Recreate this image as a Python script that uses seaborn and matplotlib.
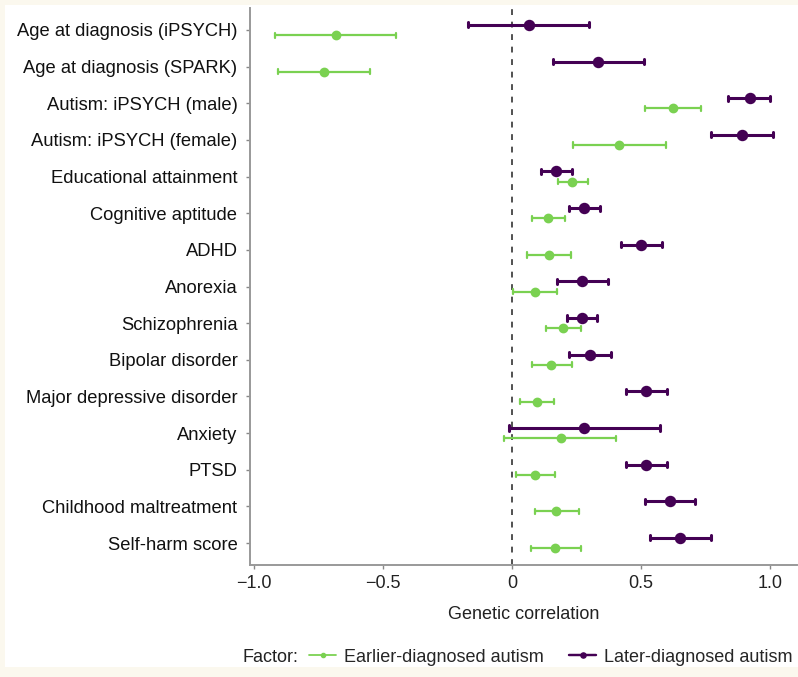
import matplotlib
matplotlib.use("Agg")
import matplotlib.pyplot as plt
from matplotlib.lines import Line2D
from matplotlib.patches import Rectangle
import seaborn as sns
import pandas as pd
import numpy as np

traits = [
    "Age at diagnosis (iPSYCH)", "Age at diagnosis (SPARK)", "Autism: iPSYCH (male)",
    "Autism: iPSYCH (female)", "Educational attainment", "Cognitive aptitude", "ADHD",
    "Anorexia", "Schizophrenia", "Bipolar disorder", "Major depressive disorder",
    "Anxiety", "PTSD", "Childhood maltreatment", "Self-harm score",
]
factors = ["Earlier-diagnosed autism", "Later-diagnosed autism"]

early_est = [-0.683, -0.729, 0.623, 0.416, 0.233, 0.140, 0.144, 0.089, 0.198, 0.153, 0.095, 0.189, 0.089, 0.172, 0.167]
early_lo = [-0.918, -0.909, 0.514, 0.236, 0.178, 0.077, 0.060, 0.005, 0.133, 0.078, 0.029, -0.030, 0.016, 0.089, 0.074]
early_hi = [-0.448, -0.552, 0.731, 0.597, 0.295, 0.205, 0.230, 0.174, 0.267, 0.233, 0.164, 0.403, 0.167, 0.258, 0.267]

late_est = [0.064, 0.333, 0.921, 0.891, 0.171, 0.281, 0.500, 0.271, 0.271, 0.302, 0.521, 0.281, 0.521, 0.612, 0.653]
late_lo = [-0.172, 0.157, 0.839, 0.773, 0.112, 0.222, 0.424, 0.174, 0.212, 0.222, 0.441, -0.013, 0.441, 0.514, 0.535]
late_hi = [0.300, 0.510, 1.001, 1.011, 0.233, 0.341, 0.583, 0.372, 0.329, 0.383, 0.600, 0.575, 0.600, 0.711, 0.770]

xticks = [-1.0, -0.5, 0.0, 0.5, 1.0]
xtick_labels = ["\u22121.0", "\u22120.5", "0", "0.5", "1.0"]

colors = {"Earlier-diagnosed autism": "#7AD151", "Later-diagnosed autism": "#440154"}

rows = []
for f, lo, est, hi in [(factors[0], early_lo, early_est, early_hi),
                       (factors[1], late_lo, late_est, late_hi)]:
    for t, a, b, c in zip(traits, lo, est, hi):
        for v in (a, b, c):
            rows.append({"trait": t, "factor": f, "value": v})
df = pd.DataFrame(rows)

sns.set_theme(style="white")
plt.rcParams["font.family"] = ["Liberation Sans", "DejaVu Sans"]

fig = plt.figure(figsize=(7.98, 6.77), dpi=100)
fig.patch.set_facecolor("#fbf8ee")
fig.add_artist(Rectangle((5 / 798, 10 / 677), 793 / 798, 662 / 677,
                         transform=fig.transFigure, facecolor="white", edgecolor="none", zorder=-10))
ax = fig.add_axes([250 / 798, 1 - 565 / 677, 547 / 798, (565 - 8) / 677])
ax.set_facecolor("white")

ax.axvline(0, color="#333333", lw=1.2, ls=(0, (3.5, 4)), zorder=0)

hue_order = [factors[1], factors[0]]
styles = {factors[0]: dict(ms=5, lw=1.6), factors[1]: dict(ms=6.2, lw=2.2)}
for f in factors:
    sns.pointplot(data=df[df.factor == f], x="value", y="trait", hue="factor",
                  hue_order=hue_order, order=traits, palette=colors,
                  estimator="median", errorbar=("pi", 100), dodge=0.28,
                  capsize=0.14, linestyle="none", markers="o",
                  markersize=styles[f]["ms"],
                  err_kws={"linewidth": styles[f]["lw"]}, ax=ax, legend=False)

ax.set_xlim(-1.016, 1.105)
ax.set_ylim(len(traits) - 0.4, -0.6)
ax.set_xticks(xticks, xtick_labels)
ax.set_xlabel("Genetic correlation", fontsize=13, labelpad=10, color="#222222")
ax.set_ylabel("")
ax.tick_params(axis="y", labelsize=13.2, length=3, width=1, color="#888888", labelcolor="#111111", pad=6, left=True)
ax.tick_params(axis="x", labelsize=13, length=3, width=1, color="#888888", labelcolor="#222222", pad=4, bottom=True)
for s in ["top", "right"]:
    ax.spines[s].set_visible(False)
for s in ["left", "bottom"]:
    ax.spines[s].set_color("#999999")
    ax.spines[s].set_linewidth(1.4)

handles = [Line2D([], [], color=colors[f], lw=styles[f]["lw"] * 0.8, marker="o",
                  markersize=styles[f]["ms"] * 0.6) for f in factors]
fig.legend(handles, factors, loc="center left",
           bbox_to_anchor=(309 / 798, 1 - 657 / 677), ncol=2, frameon=False,
           fontsize=13, handlelength=1.5, handletextpad=0.45, columnspacing=1.4,
           borderpad=0, borderaxespad=0)
fig.text(243 / 798, 1 - 657 / 677, "Factor:", fontsize=13, va="center", ha="left", color="#222222")

fig.savefig("out.png", dpi=100, facecolor=fig.get_facecolor())
